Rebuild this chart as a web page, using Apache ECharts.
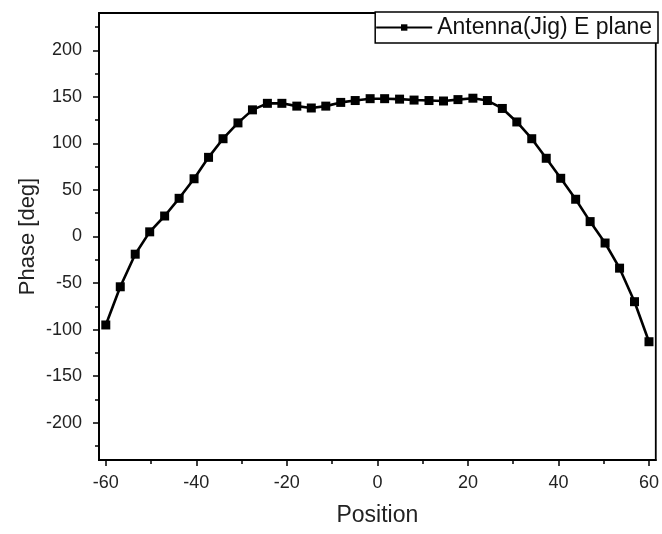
<!DOCTYPE html>
<html>
<head>
<meta charset="utf-8">
<script src="https://cdn.jsdelivr.net/npm/echarts@6/dist/echarts.min.js"></script>
<style>
html,body{margin:0;padding:0;background:#fff;}
#chart{width:662px;height:534px;}
</style>
</head>
<body>
<div id="chart"></div>
<script>
// Data
const seriesName = 'Antenna(Jig) E plane';
const positions = [-60, -56.8, -53.5, -50.3, -47.0, -43.8, -40.5, -37.3, -34.1, -30.8, -27.6, -24.3, -21.1,
  -17.8, -14.6, -11.4, -8.1, -4.9, -1.6, 1.6, 4.9, 8.1, 11.4, 14.6, 17.8, 21.1,
  24.3, 27.6, 30.8, 34.1, 37.3, 40.5, 43.8, 47.0, 50.3, 53.5, 56.8, 60];
const phases = [-95, -54, -19, 5, 22, 41, 62, 85, 105, 122, 136, 143, 143,
  140, 138, 140, 144, 146, 148, 148, 147.5, 146.5, 146, 145.5, 147, 148.5,
  146, 137.5, 123, 105, 84, 62.5, 40, 16, -7, -34, -70, -113];
const xMajorTicks = [-60, -40, -20, 0, 20, 40, 60];
const xMinorTicks = [-50, -30, -10, 10, 30, 50];
const yMajorTicks = [-200, -150, -100, -50, 0, 50, 100, 150, 200];
const yMinorTicks = [-225, -175, -125, -75, -25, 25, 75, 125, 175, 225];

const FONT = '"Liberation Sans", Arial, sans-serif';
const chart = echarts.init(document.getElementById('chart'), null, {renderer: 'canvas'});
const data = positions.map((x, i) => [x, phases[i]]);

const xBase = {type: 'value', min: -61.5, max: 61.5, gridIndex: 0, position: 'bottom', splitLine: {show: false}};
const yBase = {type: 'value', min: -240, max: 240, gridIndex: 0, position: 'left', splitLine: {show: false}};

chart.setOption({
  animation: false,
  backgroundColor: '#fff',
  grid: {left: 99, right: 5, top: 13, bottom: 74, show: true, borderColor: '#000', borderWidth: 1.8, backgroundColor: 'transparent'},
  legend: {
    data: [seriesName],
    right: 4, top: 12,
    orient: 'horizontal',
    borderColor: '#000', borderWidth: 1.5, borderRadius: 0,
    padding: [4, 6, 4, 0],
    itemWidth: 56, itemHeight: 8,
    textStyle: {fontFamily: FONT, fontSize: 23, color: '#111'},
    backgroundColor: '#fff'
  },
  xAxis: [
    Object.assign({}, xBase, {
      name: 'Position', nameLocation: 'middle', nameGap: 44, nameMoveOverlap: false,
      nameTextStyle: {fontFamily: FONT, fontSize: 23, color: '#222'},
      axisLine: {show: true, onZero: false, lineStyle: {color: '#000', width: 1.8}},
      axisTick: {show: true, inside: false, length: 6, customValues: xMajorTicks, lineStyle: {color: '#000', width: 1.5}},
      axisLabel: {show: true, margin: 14, customValues: xMajorTicks, fontFamily: FONT, fontSize: 18, color: '#222'}
    }),
    Object.assign({}, xBase, {
      axisLine: {show: false, onZero: false},
      axisTick: {show: true, inside: false, length: 4, customValues: xMinorTicks, lineStyle: {color: '#000', width: 1.5}},
      axisLabel: {show: false}
    })
  ],
  yAxis: [
    Object.assign({}, yBase, {
      name: 'Phase [deg]', nameLocation: 'middle', nameGap: 60, nameRotate: 90, nameMoveOverlap: false,
      nameTextStyle: {fontFamily: FONT, fontSize: 22, color: '#222'},
      axisLine: {show: true, onZero: false, lineStyle: {color: '#000', width: 1.8}},
      axisTick: {show: true, inside: false, length: 6, customValues: yMajorTicks, lineStyle: {color: '#000', width: 1.5}},
      axisLabel: {show: true, margin: 17, customValues: yMajorTicks, fontFamily: FONT, fontSize: 18, color: '#222'}
    }),
    Object.assign({}, yBase, {
      axisLine: {show: false, onZero: false},
      axisTick: {show: true, inside: false, length: 4, customValues: yMinorTicks, lineStyle: {color: '#000', width: 1.5}},
      axisLabel: {show: false}
    })
  ],
  series: [{
    name: seriesName,
    type: 'line',
    xAxisIndex: 0, yAxisIndex: 0,
    data: data,
    symbol: 'rect',
    symbolSize: 9,
    showAllSymbol: true,
    lineStyle: {color: '#000', width: 2.6},
    itemStyle: {color: '#000'},
    clip: false
  }]
});
</script>
</body>
</html>
